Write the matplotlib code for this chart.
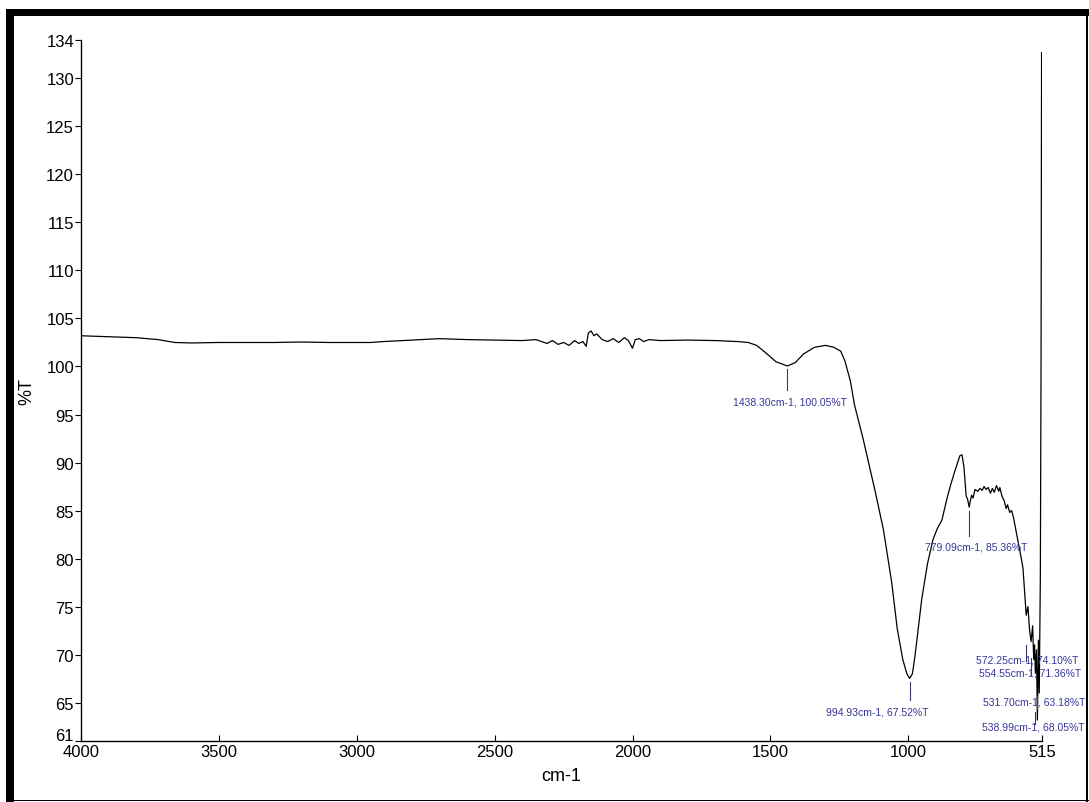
import matplotlib
matplotlib.use("Agg")
import matplotlib.pyplot as plt
import matplotlib.transforms as mtransforms
from matplotlib import font_manager
from matplotlib.patches import Rectangle

# FTIR transmittance spectrum, wavenumber (cm-1) vs %T
wavenumber = [4000, 3900, 3800, 3720, 3660, 3600, 3500, 3400, 3300, 3200,
              3100, 3000, 2950, 2900, 2800, 2700, 2650, 2600, 2500, 2400,
              2350, 2330, 2310, 2290, 2270, 2250, 2230, 2210, 2195, 2180,
              2168, 2160, 2150, 2140, 2130, 2110, 2090, 2070, 2050, 2030,
              2015, 2000, 1990, 1975, 1960, 1940, 1900, 1800, 1700, 1620,
              1580, 1550, 1520, 1480, 1438.3, 1410, 1380, 1340, 1300, 1270,
              1245, 1230, 1210, 1195, 1164, 1140, 1120, 1090, 1060, 1040,
              1020, 1005, 994.93, 985, 975, 951, 930, 910, 895, 878,
              860, 845, 830, 813, 805, 798, 790, 785, 779.09, 775,
              770, 765, 758, 748, 740, 732, 725, 718, 710, 702,
              695, 688, 680, 672, 668, 660, 652, 645, 640, 632,
              625, 618, 610, 600, 590, 584, 578, 572.25, 566, 560,
              554.55, 549, 545, 542, 538.99, 535, 531.7, 528, 525, 521,
              518.5, 516.5, 515]
transmittance = [103.2, 103.1, 103.0, 102.8, 102.5, 102.45, 102.5, 102.5, 102.5, 102.55,
                 102.5, 102.5, 102.5, 102.6, 102.75, 102.9, 102.85, 102.8, 102.75, 102.7,
                 102.8, 102.6, 102.4, 102.7, 102.3, 102.5, 102.2, 102.7, 102.4, 102.6,
                 102.1, 103.5, 103.7, 103.2, 103.4, 102.8, 102.6, 102.9, 102.5, 103.0,
                 102.7, 101.9, 102.8, 102.9, 102.6, 102.8, 102.7, 102.75, 102.7, 102.6,
                 102.5, 102.2, 101.5, 100.5, 100.05, 100.4, 101.3, 102.0, 102.2, 102.0,
                 101.6, 100.6, 98.5, 96.0, 92.5, 89.5, 87.0, 83.0, 77.5, 72.7,
                 69.5, 68.0, 67.52, 68.0, 70.0, 75.8, 79.5, 82.0, 83.1, 84.0,
                 86.2, 87.8, 89.2, 90.7, 90.8, 89.5, 86.5, 86.2, 85.36, 86.0,
                 86.6, 86.3, 87.2, 87.0, 87.3, 87.1, 87.5, 87.2, 87.4, 86.8,
                 87.3, 86.9, 87.6, 87.0, 87.4, 86.5, 86.0, 85.2, 85.6, 84.8,
                 85.0, 84.2, 83.0, 81.5, 80.0, 79.0, 76.5, 74.1, 75.0, 72.5,
                 71.36, 73.0, 69.5, 71.0, 68.05, 70.5, 63.18, 71.5, 66.0, 78.0,
                 100.0, 132.7, 131.0]

# peak picks: position, value, label centre, label height, leader end
peak_x = [1438.30, 994.93, 779.09, 572.25, 554.55, 531.70, 538.99]
peak_y = [100.05, 67.52, 85.36, 74.10, 71.36, 63.18, 68.05]
label_x = [1430, 1114, 752, 570, 559, 543, 548]
label_y = [96.4, 64.1, 81.3, 69.5, 68.1, 65.1, 62.5]
leader_top = [99.7, 67.1, 85.0, 71.0, 69.6, 65.7, 64.0]
leader_bot = [97.6, 65.3, 82.4, 69.3, 67.9, 64.3, 62.8]

xticks = [4000, 3500, 3000, 2500, 2000, 1500, 1000, 515]
yticks = [61, 65, 70, 75, 80, 85, 90, 95, 100, 105, 110, 115, 120, 125, 130, 134]

names = {f.name for f in font_manager.fontManager.ttflist}
tick_font = 'Liberation Sans Narrow' if 'Liberation Sans Narrow' in names else 'Liberation Sans'
tick_size = 13 if tick_font == 'Liberation Sans Narrow' else 12

fig = plt.figure(figsize=(10.89, 8.03), dpi=100)
ax = fig.add_axes([81/1089, 1-742/803, (1042-81)/1089, (742-41)/803])

ax.plot(wavenumber, transmittance, color='black', lw=0.9)

blue = '#35359a'
for i in range(len(peak_x)):
    ax.plot([peak_x[i], peak_x[i]], [leader_top[i], leader_bot[i]],
            color='#3a3a70', lw=0.8, clip_on=False)
    lbl = '%.2fcm-1, %.2f%%T' % (peak_x[i], peak_y[i])
    ax.text(label_x[i], label_y[i], lbl, color=blue, fontsize=7.5,
            family='Liberation Sans', ha='center', va='center', clip_on=False)

ax.set_xlim(4000, 515)
ax.set_ylim(61, 134)
ax.set_xticks(xticks)
ax.set_yticks(yticks)
ax.set_xticklabels([str(t) for t in xticks], family=tick_font, fontsize=tick_size)
ax.set_yticklabels([str(t) for t in yticks], family=tick_font, fontsize=tick_size)
ax.tick_params(axis='x', direction='in', length=4, pad=2, width=0.8)
ax.tick_params(axis='y', direction='out', length=4, pad=1, width=0.8)
ax.spines['top'].set_visible(False)
ax.spines['right'].set_visible(False)
for s in ['left', 'bottom']:
    ax.spines[s].set_linewidth(1.0)

# lift the bottom y label so it sits on the axis line instead of over 4000
lab61 = ax.get_yticklabels()[0]
lab61.set_transform(lab61.get_transform() +
                    mtransforms.ScaledTranslation(0, 5/72, fig.dpi_scale_trans))

ax.set_xlabel('cm-1', family=tick_font, fontsize=tick_size + 1, labelpad=6)
ax.set_ylabel('%T', family=tick_font, fontsize=tick_size + 1, labelpad=8)

# frame around the page
fig.add_artist(Rectangle((6/1089, 1-17/803), 1, 7/803, transform=fig.transFigure,
                         color='black', lw=0))
fig.add_artist(Rectangle((6/1089, 0), 8/1089, 1-10/803, transform=fig.transFigure,
                         color='black', lw=0))
fig.add_artist(Rectangle((1086/1089, 0), 1.5/1089, 1-10/803, transform=fig.transFigure,
                         color='black', lw=0))
fig.add_artist(Rectangle((6/1089, 1/803), 1, 1.5/803, transform=fig.transFigure,
                         color='black', lw=0))

fig.savefig('out.png', dpi=100)
